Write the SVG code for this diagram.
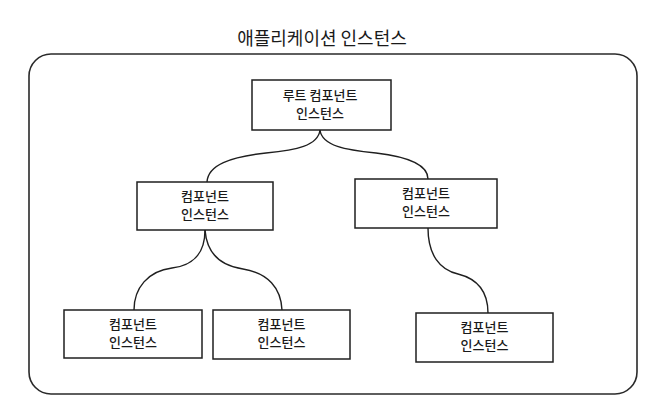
<svg xmlns="http://www.w3.org/2000/svg" width="667" height="411" viewBox="0 0 667 411">
<style>
.t{font-family:"Noto Sans CJK KR","Noto Sans CJK SC",sans-serif;fill:#1a1a1a;text-anchor:middle}
.title{font-size:18px}
.lbl{font-size:13px;font-weight:500}
.box{fill:#fff;stroke:#1f1f1f;stroke-width:1.5}
.frame{fill:none;stroke:#2a2a2a;stroke-width:1.6}
.c{fill:none;stroke:#1f1f1f;stroke-width:1.4}
</style>
<rect width="667" height="411" fill="#fff"/>
<text class="t title" x="322" y="45">애플리케이션 인스턴스</text>
<rect id="app-frame" class="frame" x="29" y="54" width="608" height="340" rx="22" ry="22"/>
<g id="connectors">
<path class="c" d="M320,130 C318,146 296,150 266,153 C230,157 208,165 207,182"/>
<path class="c" d="M320,130 C322,146 346,150 376,153 C410,157 428,165 428,179"/>
<path class="c" d="M205,230 C205,255 191,266 172,268 C148,271 134,288 134,310"/>
<path class="c" d="M205,230 C207,255 222,266 243,269 C268,273 281,288 282,310"/>
<path class="c" d="M428,228 C428,255 440,270 458,274 C478,279 488,292 488,313"/>
</g>
<g id="root">
<rect class="box" x="252" y="80" width="139" height="50"/>
<text class="t lbl" x="320" y="100">루트 컴포넌트</text>
<text class="t lbl" x="320" y="118">인스턴스</text>
</g>
<g id="mid-left">
<rect class="box" x="137" y="182" width="136" height="48"/>
<text class="t lbl" x="205" y="201">컴포넌트</text>
<text class="t lbl" x="205" y="219">인스턴스</text>
</g>
<g id="mid-right">
<rect class="box" x="355" y="179" width="142" height="49"/>
<text class="t lbl" x="426" y="198">컴포넌트</text>
<text class="t lbl" x="426" y="216">인스턴스</text>
</g>
<g id="bottom-left">
<rect class="box" x="64" y="310" width="138" height="48"/>
<text class="t lbl" x="133" y="329">컴포넌트</text>
<text class="t lbl" x="133" y="347">인스턴스</text>
</g>
<g id="bottom-middle">
<rect class="box" x="213" y="310" width="137" height="49"/>
<text class="t lbl" x="281.5" y="329">컴포넌트</text>
<text class="t lbl" x="281.5" y="347">인스턴스</text>
</g>
<g id="bottom-right">
<rect class="box" x="416" y="313" width="137" height="49"/>
<text class="t lbl" x="484.5" y="332">컴포넌트</text>
<text class="t lbl" x="484.5" y="350">인스턴스</text>
</g>
</svg>
